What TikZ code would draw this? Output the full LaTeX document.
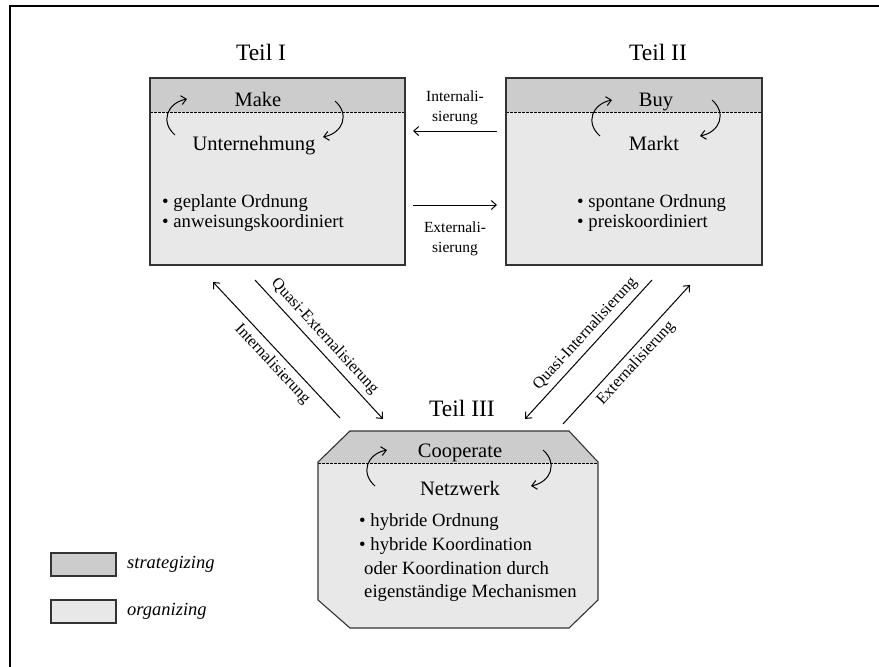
\documentclass[tikz,border=0pt]{standalone}
\usepackage{fontspec}
\setmainfont{Liberation Serif}
\usetikzlibrary{arrows.meta}
\definecolor{hdr}{gray}{0.80}
\definecolor{bdy}{gray}{0.91}
\definecolor{edge}{gray}{0.2}
\begin{document}
\begin{tikzpicture}[x=1pt,y=-1pt,
 boxline/.style={draw=edge,line width=1.1pt},
 sepline/.style={dash pattern=on 2.5pt off 1.5pt, line width=0.6pt},
 arr/.style={line width=1pt,-{Straight Barb[length=5pt,width=9pt]}},
 curv/.style={line width=1pt,-{Straight Barb[length=5pt,width=9pt]}},
 teil/.style={font=\fontsize{23.5}{28}\selectfont, inner sep=0pt},
 head/.style={font=\fontsize{20.5}{24}\selectfont, inner sep=0pt, anchor=base},
 item/.style={font=\fontsize{18.7}{22}\selectfont, anchor=base west, inner sep=0pt},
 lab/.style={font=\fontsize{15.5}{20}\selectfont, inner sep=1pt, align=center},
 dlab/.style={font=\fontsize{16.2}{20}\selectfont, inner sep=1pt},
 leg/.style={font=\itshape\fontsize{18.5}{22}\selectfont, anchor=west, inner sep=0pt},
 ]
\useasboundingbox (0,0) rectangle (879,667);
\draw[line width=2pt] (10,667) -- (10,6) -- (879,6);

% ---- Teil I: Make box
\node[draw=none, fill=bdy, minimum width=255pt, minimum height=187pt, inner sep=0pt, outer sep=0pt] (make) at (277.5,171.5) {};
\fill[hdr] (150,78) rectangle (405,112);
\draw[sepline] (150,112) -- (405,112);
\draw[boxline] (150,78) rectangle (405,265);

% ---- Teil II: Buy box
\node[draw=none, fill=bdy, minimum width=256pt, minimum height=187pt, inner sep=0pt, outer sep=0pt] (buy) at (634,171.5) {};
\fill[hdr] (506,78) rectangle (762,112);
\draw[sepline] (506,112) -- (762,112);
\draw[boxline] (506,78) rectangle (762,265);

% ---- Teil III: Cooperate octagon
\fill[bdy] (350,431) -- (569,431) -- (598,462) -- (598,600) -- (569,628) -- (350,628) -- (318,600) -- (318,462) -- cycle;
\fill[hdr] (318,463) -- (349,431) -- (569,431) -- (598,463) -- cycle;
\draw[sepline] (318,463) -- (598,463);
\draw[boxline] (350,431) -- (569,431) -- (598,462) -- (598,600) -- (569,628) -- (350,628) -- (318,600) -- (318,462) -- cycle;

% ---- titles
\node[teil] (t1) at (261,52) {Teil I};
\node[teil] (t2) at (658,52) {Teil II};
\node[teil] (t3) at (462,408) {Teil III};

% ---- box texts
\node[head] (mk) at (258,106) {Make};
\node[head] (un) at (254,150) {Unternehmung};
\node[item] (m1) at (162,207) {• geplante Ordnung};
\node[item] (m2) at (162,227.5) {• anweisungskoordiniert};

\node[head] (by) at (656,106) {Buy};
\node[head] (mt) at (654,150) {Markt};
\node[item] (b1) at (577,207) {• spontane Ordnung};
\node[item] (b2) at (577,227.5) {• preiskoordiniert};

\node[head] (co) at (460,457) {Cooperate};
\node[head] (nw) at (460,495) {Netzwerk};
\node[item] (c1) at (359,526) {• hybride Ordnung};
\node[item] (c2) at (359,550) {• hybride Koordination};
\node[item] (c3) at (364,574) {oder Koordination durch};
\node[item] (c4) at (364,597) {eigenständige Mechanismen};

% ---- curved arrows
\draw[curv] (175,135) .. controls (160,122) and (167,103) .. (187,99);
\draw[curv] (335,101) .. controls (350,114) and (343,133) .. (323,137);
\draw[curv] (600,136) .. controls (585,123) and (592,104) .. (612,100);
\draw[curv] (712,100) .. controls (727,113) and (720,132) .. (700,136);
\draw[curv] (375,486) .. controls (360,473) and (367,454) .. (387,450);
\draw[curv] (543,450) .. controls (558,463) and (551,482) .. (531,486);

% ---- horizontal arrows
\coordinate (ia) at (497,131); \coordinate (ib) at (413,131);
\coordinate (ea) at (413,205); \coordinate (eb) at (497,205);
\draw[arr] (ia) -- (ib);
\draw[arr] (ea) -- (eb);
\node[lab] (il) at (455,108) {Internali-\\sierung};
\node[lab] (el) at (455,239) {Externali-\\sierung};

% ---- diagonal arrows
\coordinate (p1) at (340,418); \coordinate (p2) at (213,282);
\coordinate (q1) at (255,280); \coordinate (q2) at (383,419);
\coordinate (r1) at (652,280); \coordinate (r2) at (525,419);
\coordinate (s1) at (563,424); \coordinate (s2) at (690,285);
\draw[arr] (p1) -- (p2) node[dlab, pos=0.46, sloped, below=4pt] (pl) {Internalisierung};
\draw[arr] (q1) -- (q2) node[dlab, pos=0.47, sloped, above=4pt] (ql) {Quasi-Externalisierung};
\draw[arr] (r1) -- (r2) node[dlab, pos=0.45, sloped, above=4pt] (rl) {Quasi-Internalisierung};
\draw[arr] (s1) -- (s2) node[dlab, pos=0.50, sloped, below=4pt] (sl) {Externalisierung};

% ---- legend
\node[draw=edge, line width=1.1pt, fill=hdr, minimum width=65pt, minimum height=23pt, inner sep=0pt] (lg1) at (83.5,564.5) {};
\node[draw=edge, line width=1.1pt, fill=bdy, minimum width=65pt, minimum height=23pt, inner sep=0pt] (lg2) at (83.5,611.5) {};
\node[leg] (lt1) at (127,564) {strategizing};
\node[leg] (lt2) at (127,611) {organizing};
\end{tikzpicture}
\end{document}
